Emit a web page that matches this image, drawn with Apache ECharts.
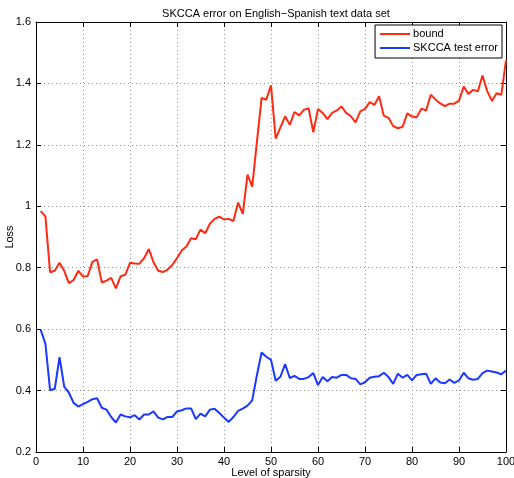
<!DOCTYPE html>
<html lang="en">
<head>
  <meta charset="UTF-8">
  <title>SKCCA error</title>
  <script src="https://cdn.jsdelivr.net/npm/echarts@6/dist/echarts.min.js"></script>
  <style>
    html, body { margin: 0; padding: 0; background: #fff; }
    #main { width: 514px; height: 478px; }
  </style>
</head>
<body>
  <div id="main"></div>
  <script>
    // level of sparsity (x positions of each sample)
    var levels = [1, 2, 3, 4, 5, 6, 7, 8, 9, 10,
      11, 12, 13, 14, 15, 16, 17, 18, 19, 20,
      21, 22, 23, 24, 25, 26, 27, 28, 29, 30,
      31, 32, 33, 34, 35, 36, 37, 38, 39, 40,
      41, 42, 43, 44, 45, 46, 47, 48, 49, 50,
      51, 52, 53, 54, 55, 56, 57, 58, 59, 60,
      61, 62, 63, 64, 65, 66, 67, 68, 69, 70,
      71, 72, 73, 74, 75, 76, 77, 78, 79, 80,
      81, 82, 83, 84, 85, 86, 87, 88, 89, 90,
      91, 92, 93, 94, 95, 96, 97, 98, 99, 100]

    var bound = [0.984, 0.967, 0.785, 0.790, 0.816, 0.790, 0.750, 0.760, 0.790, 0.771,
      0.773, 0.819, 0.827, 0.752, 0.758, 0.767, 0.733, 0.772, 0.777, 0.816,
      0.814, 0.813, 0.831, 0.861, 0.818, 0.790, 0.786, 0.794, 0.809, 0.831,
      0.856, 0.869, 0.896, 0.893, 0.924, 0.912, 0.943, 0.959, 0.966, 0.957,
      0.959, 0.952, 1.012, 0.975, 1.103, 1.064, 1.210, 1.353, 1.347, 1.394,
      1.220, 1.257, 1.293, 1.265, 1.307, 1.296, 1.314, 1.319, 1.241, 1.317,
      1.304, 1.284, 1.304, 1.312, 1.325, 1.304, 1.293, 1.273, 1.309, 1.317,
      1.339, 1.330, 1.358, 1.295, 1.288, 1.261, 1.254, 1.259, 1.303, 1.292,
      1.290, 1.318, 1.312, 1.363, 1.348, 1.335, 1.326, 1.334, 1.334, 1.344,
      1.390, 1.366, 1.379, 1.374, 1.426, 1.375, 1.343, 1.368, 1.363, 1.475]

    var testError = [0.598, 0.553, 0.401, 0.406, 0.509, 0.413, 0.393, 0.360, 0.348, 0.356,
      0.363, 0.372, 0.375, 0.344, 0.338, 0.314, 0.296, 0.322, 0.316, 0.313,
      0.320, 0.306, 0.322, 0.322, 0.332, 0.312, 0.306, 0.314, 0.314, 0.332,
      0.336, 0.342, 0.342, 0.307, 0.325, 0.316, 0.338, 0.341, 0.327, 0.312,
      0.298, 0.314, 0.334, 0.341, 0.351, 0.368, 0.450, 0.524, 0.510, 0.500,
      0.432, 0.445, 0.486, 0.441, 0.448, 0.438, 0.438, 0.444, 0.457, 0.418,
      0.444, 0.430, 0.444, 0.442, 0.451, 0.451, 0.440, 0.438, 0.420, 0.427,
      0.442, 0.445, 0.447, 0.458, 0.444, 0.422, 0.455, 0.442, 0.451, 0.433,
      0.451, 0.453, 0.455, 0.422, 0.440, 0.426, 0.424, 0.436, 0.425, 0.433,
      0.458, 0.440, 0.435, 0.438, 0.457, 0.465, 0.462, 0.459, 0.453, 0.465]

    var font = '"Liberation Sans", Arial, Helvetica, sans-serif'

    function pairs(ys) {
      return levels.map(function (x, i) { return [x, ys[i]] })
    }

    var myChart = echarts.init(document.getElementById('main'))

    var gridLine = { show: true, lineStyle: { type: [1, 3], color: '#999', width: 1 } }
    var tick = { show: true, inside: true, length: 5, lineStyle: { color: '#000' } }
    var line = { show: true, onZero: false, lineStyle: { color: '#000', width: 1 } }

    var option = {
      animation: false,
      backgroundColor: '#fff',
      textStyle: { fontFamily: font },
      title: {
        text: 'SKCCA error on English\u2212Spanish text data set',
        left: 271,
        textAlign: 'center',
        top: 3,
        textStyle: { fontFamily: font, fontSize: 11, fontWeight: 'normal', color: '#000' }
      },
      grid: { left: 36, right: 8, top: 22, bottom: 26, containLabel: false, outerBoundsMode: 'none' },
      legend: {
        orient: 'vertical',
        right: 12,
        top: 25,
        backgroundColor: '#fff',
        borderColor: '#000',
        borderWidth: 1,
        borderRadius: 0,
        padding: [3, 4, 4, 5],
        itemGap: 2,
        itemWidth: 30,
        itemHeight: 2,
        icon: 'rect',
        textStyle: { fontFamily: font, fontSize: 11, lineHeight: 12, color: '#000', padding: [0, 0, 0, -2] },
        data: ['bound', 'SKCCA test error']
      },
      xAxis: [
        {
          type: 'value', min: 0, max: 100, interval: 10,
          name: 'Level of sparsity', nameLocation: 'middle', nameGap: 15, nameMoveOverlap: false,
          nameTextStyle: { fontFamily: font, fontSize: 11, color: '#000' },
          axisLine: line, axisTick: tick, splitLine: gridLine,
          axisLabel: { fontFamily: font, fontSize: 11, color: '#000', margin: 4 }
        },
        {
          type: 'value', min: 0, max: 100, interval: 10, position: 'top',
          axisLine: line, axisTick: tick, splitLine: { show: false }, axisLabel: { show: false }
        }
      ],
      yAxis: [
        {
          type: 'value', min: 0.2, max: 1.6, interval: 0.2,
          name: 'Loss', nameLocation: 'middle', nameGap: 21, nameMoveOverlap: false,
          nameTextStyle: { fontFamily: font, fontSize: 11, color: '#000' },
          axisLine: line, axisTick: tick, splitLine: gridLine,
          axisLabel: {
            fontFamily: font, fontSize: 11, color: '#000', margin: 5,
            formatter: function (v) { return String(+v.toFixed(1)) }
          }
        },
        {
          type: 'value', min: 0.2, max: 1.6, interval: 0.2, position: 'right',
          axisLine: line, axisTick: tick, splitLine: { show: false }, axisLabel: { show: false }
        }
      ],
      series: [
        {
          name: 'bound',
          type: 'line',
          data: pairs(bound),
          symbol: 'none',
          color: '#ff2a12',
          lineStyle: { width: 2, color: '#ff2a12' }
        },
        {
          name: 'SKCCA test error',
          type: 'line',
          data: pairs(testError),
          symbol: 'none',
          color: '#1a38ff',
          lineStyle: { width: 2, color: '#1a38ff' }
        }
      ]
    }
    myChart.setOption(option)
  </script>
</body>
</html>
